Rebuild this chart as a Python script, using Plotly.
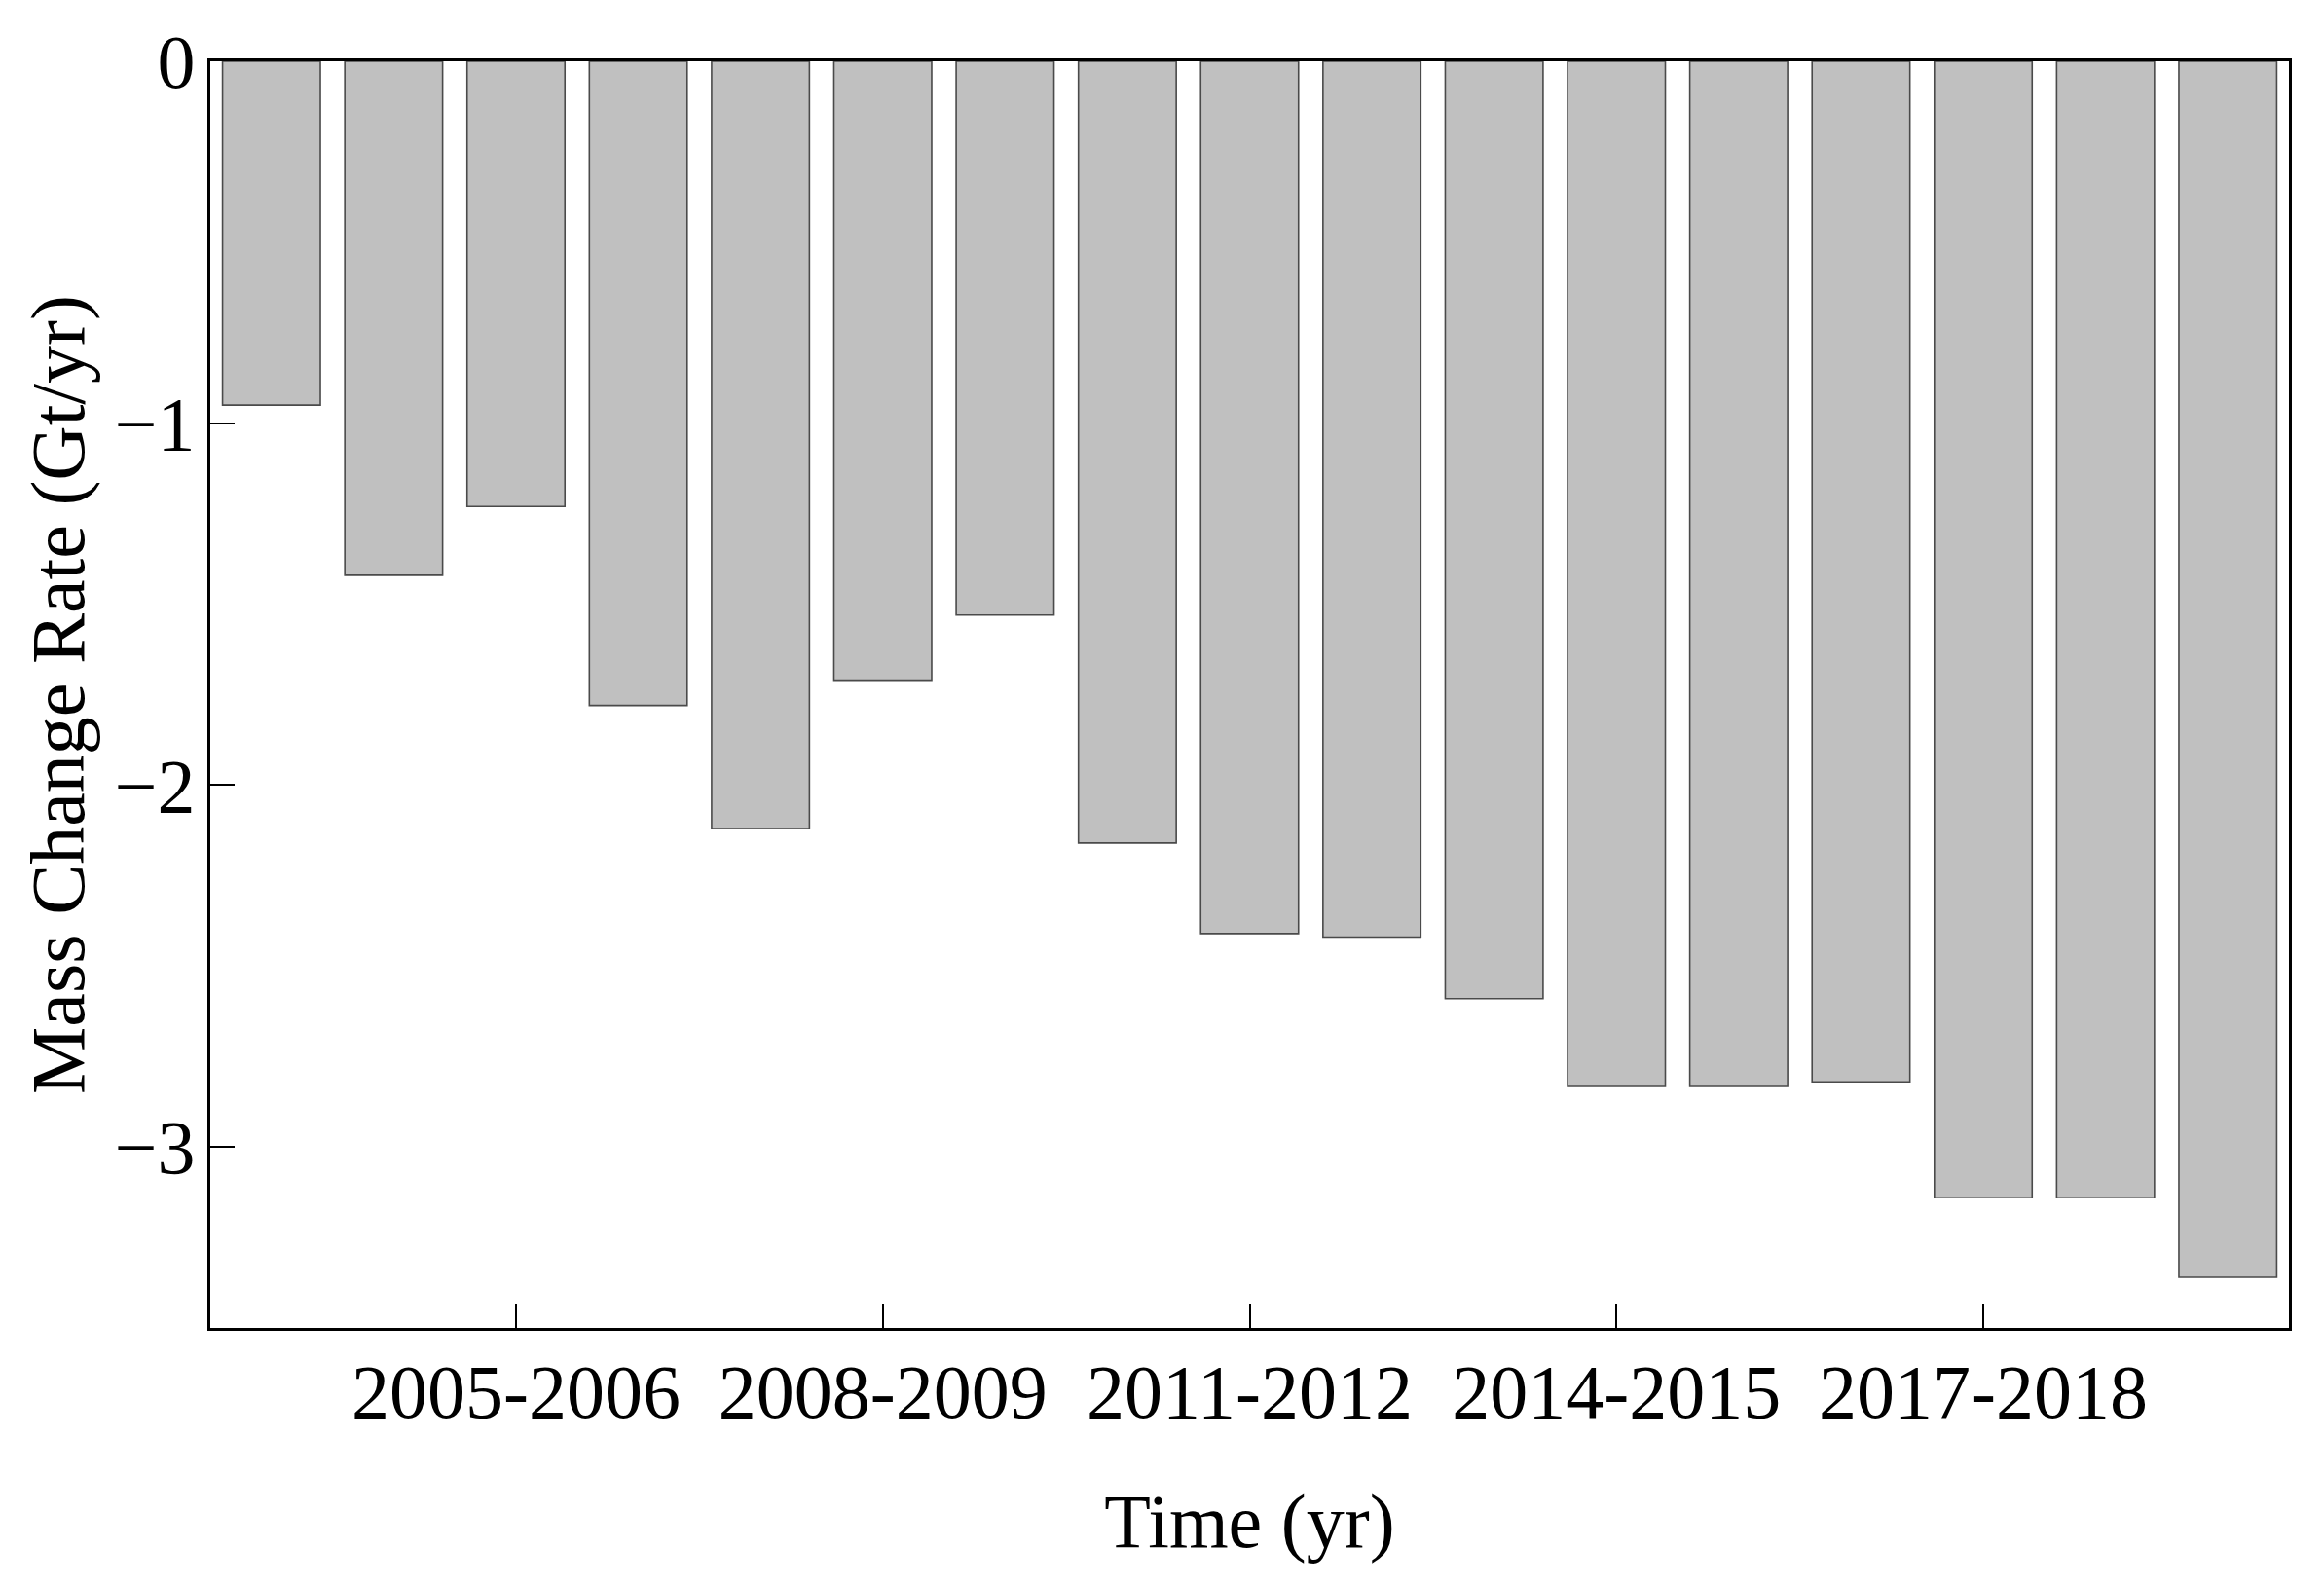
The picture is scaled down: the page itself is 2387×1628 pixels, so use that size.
import plotly.graph_objects as go

periods = ["2003-2004", "2004-2005", "2005-2006", "2006-2007", "2007-2008", "2008-2009",
           "2009-2010", "2010-2011", "2011-2012", "2012-2013", "2013-2014", "2014-2015",
           "2015-2016", "2016-2017", "2017-2018", "2018-2019", "2019-2020"]
mass_change_rate = [-0.95, -1.42, -1.23, -1.78, -2.12, -1.71, -1.53, -2.16, -2.41, -2.42,
                    -2.59, -2.83, -2.83, -2.82, -3.14, -3.14, -3.36]
x_tick_labels = ["2005-2006", "2008-2009", "2011-2012", "2014-2015", "2017-2018"]
y_tick_values = [0, -1, -2, -3]

FONT = "Liberation Serif, Times New Roman, serif"

fig = go.Figure(go.Bar(
    x=periods, y=mass_change_rate,
    marker=dict(color="#c0c0c0", line=dict(color="#4a4a4a", width=1.6)),
    width=0.8,
))

# the page body adds an 8 px offset, compensated in the margins
fig.update_layout(
    width=2387, height=1628,
    margin=dict(l=208, r=44, t=46, b=272),
    paper_bgcolor="white", plot_bgcolor="white",
    font=dict(family=FONT, size=78, color="black"),
    showlegend=False,
    xaxis=dict(
        type="category", categoryorder="array", categoryarray=periods,
        range=[-0.5, len(periods) - 0.5],
        tickmode="array", tickvals=x_tick_labels, ticktext=x_tick_labels,
        ticks="inside", ticklen=25, tickwidth=2, tickcolor="black",
        showline=True, linecolor="black", linewidth=3, mirror=True,
        showgrid=False, zeroline=False,
        ticklabelstandoff=-5,
        title=dict(text="Time (yr)", font=dict(size=78), standoff=63),
    ),
    yaxis=dict(
        range=[-3.5, 0],
        tickmode="array", tickvals=y_tick_values,
        ticks="inside", ticklen=25, tickwidth=2, tickcolor="black",
        showline=True, linecolor="black", linewidth=3, mirror=True,
        showgrid=False, zeroline=False,
        ticklabelstandoff=-3,
        title=dict(text="Mass Change Rate (Gt/yr)", font=dict(size=78), standoff=6),
    ),
)

fig.write_html("out.html")
